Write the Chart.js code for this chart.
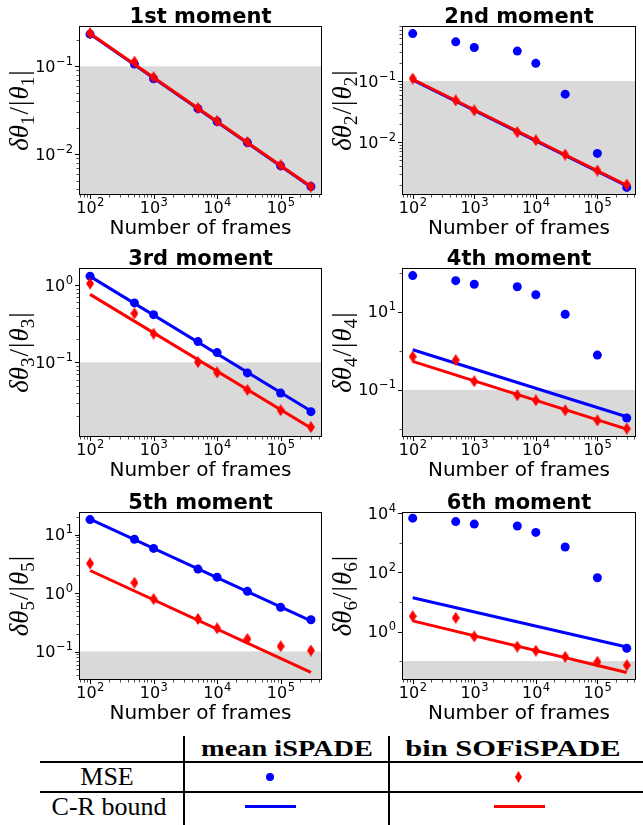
<!DOCTYPE html>
<html>
<head>
<meta charset="utf-8">
<script src="https://cdn.jsdelivr.net/npm/chart.js@4.4.1/dist/chart.umd.min.js"></script>
<style>
  html, body { margin: 0; padding: 0; background: #fff; }
  #page { position: relative; width: 643px; height: 825px; overflow: hidden; }
  #page canvas { position: absolute; }
  .rule { position: absolute; background: #000; }
  .cell { position: absolute; font-family: "Liberation Serif", serif; font-size: 26px; line-height: 1;
          color: #000; white-space: nowrap; transform: translate(-50%, -50%); }
  .head { font-weight: bold; font-size: 24px; transform: translate(-50%, -50%) scaleX(1.18); }
  .head.wide { transform: translate(-50%, -50%) scaleX(1.27); }
  .mark { position: absolute; }
</style>
</head>
<body>
<div id="page">
  <!-- key table under the panels -->
  <div class="rule" style="left:40px; top:761px; width:603px; height:1.5px"></div>
  <div class="rule" style="left:40px; top:791px; width:603px; height:1.5px"></div>
  <div class="rule" style="left:183px; top:736px; width:1.5px; height:89px"></div>
  <div class="rule" style="left:388px; top:736px; width:1.5px; height:89px"></div>
  <div class="cell head" style="left:287px; top:748px">mean iSPADE</div>
  <div class="cell head wide" style="left:513px; top:748px">bin SOFiSPADE</div>
  <div class="cell" style="left:107px; top:777px">MSE</div>
  <div class="cell" style="left:109px; top:807px">C-R bound</div>
  <div class="mark" style="left:266px; top:773px; width:8px; height:8px; border-radius:50%; background:#0000ff"></div>
  <div class="mark" style="left:515px; top:771px; width:7px; height:12px; background:#ff0000; clip-path:polygon(50% 0, 100% 50%, 50% 100%, 0 50%)"></div>
  <div class="mark" style="left:245px; top:805px; width:51px; height:3px; background:#0000ff"></div>
  <div class="mark" style="left:494px; top:805px; width:51px; height:3px; background:#ff0000"></div>
</div>
<script>
// number of frames used for each estimate
const frames = [100, 500, 1000, 5000, 10000, 30000, 100000, 300000];
// the Cramer-Rao bound lines run between these two frame counts
const boundFrames = [100, 300000];

// relative error of the mean iSPADE estimator (MSE), per moment
const meanMse1 = [0.232, 0.106, 0.072, 0.033, 0.0236, 0.0136, 0.0074, 0.0043];
const meanMse2 = [0.60, 0.44, 0.355, 0.31, 0.195, 0.061, 0.0065, 0.0018];
const meanMse3 = [1.31, 0.59, 0.415, 0.186, 0.134, 0.073, 0.040, 0.023];
const meanMse4 = [85, 63, 51, 44, 27.5, 8.7, 0.78, 0.019];
const meanMse5 = [18, 8.3, 5.8, 2.57, 1.87, 1.07, 0.57, 0.35];
const meanMse6 = [6800, 5200, 4300, 3700, 2250, 720, 66, 0.27];

// relative error of the bin SOFiSPADE estimator (MSE), per moment
const binMse1 = [0.238, 0.113, 0.075, 0.0335, 0.024, 0.0138, 0.0075, 0.0043];
const binMse2 = [0.110, 0.048, 0.033, 0.0145, 0.0107, 0.0062, 0.0034, 0.0020];
const binMse3 = [1.05, 0.43, 0.235, 0.101, 0.074, 0.044, 0.024, 0.0145];
const binMse4 = [0.71, 0.58, 0.166, 0.073, 0.054, 0.030, 0.0165, 0.0102];
const binMse5 = [3.2, 1.5, 0.79, 0.36, 0.25, 0.164, 0.123, 0.104];
const binMse6 = [3.3, 2.9, 0.68, 0.31, 0.225, 0.14, 0.095, 0.073];

// Cramer-Rao bounds at the first and last frame count
const meanBound1 = [0.232, 0.00424];
const meanBound2 = [0.104, 0.0019];
const meanBound3 = [1.30, 0.0235];
const meanBound4 = [1.07, 0.0205];
const meanBound5 = [18.3, 0.335];
const meanBound6 = [13.8, 0.30];
const binBound1 = [0.236, 0.0043];
const binBound2 = [0.107, 0.00195];
const binBound3 = [0.76, 0.0141];
const binBound4 = [0.54, 0.0099];
const binBound5 = [2.43, 0.044];
const binBound6 = [2.3, 0.041];

const momentTitles = ['1st moment', '2nd moment', '3rd moment', '4th moment', '5th moment', '6th moment'];
const xTicks = [1e2, 1e3, 1e4, 1e5];
const yTicks = [[1e-2, 1e-1], [1e-2, 1e-1], [1e-1, 1e0], [1e-1, 1e1], [1e-1, 1e0, 1e1], [1e0, 1e2, 1e4]];
const threshold = 0.1;

const meanMse = [meanMse1, meanMse2, meanMse3, meanMse4, meanMse5, meanMse6];
const binMse = [binMse1, binMse2, binMse3, binMse4, binMse5, binMse6];
const meanBound = [meanBound1, meanBound2, meanBound3, meanBound4, meanBound5, meanBound6];
const binBound = [binBound1, binBound2, binBound3, binBound4, binBound5, binBound6];

// canvas box [left, top, width, height] and plot rect [left, top, right, bottom], page pixels
const panels = [
  { canvas: [0, 0, 330, 245],     plot: [79, 26, 322, 195],   yMin: 0.00345, yMax: 0.287, xMax: 448000, stride: 1 },
  { canvas: [330, 0, 313, 245],   plot: [402, 26, 643, 195],  yMin: 0.00135, yMax: 0.80,  xMax: 424000, stride: 1 },
  { canvas: [0, 245, 330, 245],   plot: [79, 268, 322, 437],  yMin: 0.0108,  yMax: 1.67,  xMax: 448000, stride: 1 },
  { canvas: [330, 245, 313, 245], plot: [402, 268, 643, 437], yMin: 0.0062,  yMax: 133,   xMax: 424000, stride: 2 },
  { canvas: [0, 490, 330, 240],   plot: [79, 512, 322, 680],  yMin: 0.0326,  yMax: 24.3,  xMax: 448000, stride: 1 },
  { canvas: [330, 490, 313, 240], plot: [402, 512, 643, 680], yMin: 0.023,   yMax: 11000, xMax: 424000, stride: 2 }
];
const xMin = 67;

const BASE_FONT = '16px "DejaVu Sans"';
const SUP_FONT = '11.5px "DejaVu Sans"';

// "10" with a raised exponent, anchored at x ('center' or 'right') on baseline y
function drawPower(ctx, v, x, y, align) {
  const e = String(Math.round(Math.log10(v))).replace('-', '\u2212');
  ctx.font = BASE_FONT;
  const wb = ctx.measureText('10').width;
  ctx.font = SUP_FONT;
  const we = ctx.measureText(e).width;
  const x0 = align === 'center' ? x - (wb + we) / 2 : x - (wb + we);
  ctx.font = BASE_FONT;
  ctx.fillText('10', x0, y);
  ctx.font = SUP_FONT;
  ctx.fillText(e, x0 + wb + 0.5, y - 7);
}

function thinDiamond(w, h, color) {
  const c = document.createElement('canvas');
  c.width = w; c.height = h;
  const g = c.getContext('2d');
  g.fillStyle = color;
  g.beginPath();
  g.moveTo(w / 2, 0); g.lineTo(w, h / 2); g.lineTo(w / 2, h); g.lineTo(0, h / 2);
  g.closePath();
  g.fill();
  return c;
}
const diamond = thinDiamond(8, 12, '#ff0000');

// minor tick values (2..9 per decade, or the skipped decades) inside [lo, hi]
function minorTicks(lo, hi, stride) {
  const out = [];
  for (let e = Math.floor(Math.log10(lo)); e <= Math.ceil(Math.log10(hi)); e++) {
    const d = Math.pow(10, e);
    if (stride > 1) {
      if (d >= lo && d <= hi) out.push(d);
      continue;
    }
    for (let m = 2; m <= 9; m++) {
      const v = m * d;
      if (v >= lo && v <= hi) out.push(v);
    }
  }
  return out;
}

// rich y-axis label: delta theta_n / |theta_n|
function drawYLabel(ctx, n, cx, cy, size) {
  const it = `italic ${size}px "Liberation Serif"`;
  const rm = `${size}px "Liberation Serif"`;
  const sb = `${Math.round(size * 0.7)}px "Liberation Serif"`;
  const parts = [
    { t: '\u03b4\u03b8', f: it, dy: 0, gap: 0 },
    { t: String(n), f: sb, dy: size * 0.22, gap: 1 },
    { t: '/', f: rm, dy: 0, gap: 1 },
    { t: '|', f: rm, dy: 0, gap: 1 },
    { t: '\u03b8', f: it, dy: 0, gap: 0 },
    { t: String(n), f: sb, dy: size * 0.22, gap: 1 },
    { t: '|', f: rm, dy: 0, gap: 0 }
  ];
  let total = 0;
  parts.forEach(p => { ctx.font = p.f; p.w = ctx.measureText(p.t).width + p.gap; total += p.w; });
  ctx.save();
  ctx.translate(cx, cy);
  ctx.rotate(-Math.PI / 2);
  ctx.fillStyle = '#000';
  ctx.textBaseline = 'alphabetic';
  let x = -total / 2;
  parts.forEach(p => {
    ctx.font = p.f;
    ctx.fillText(p.t, x, size * 0.3 + p.dy);
    x += p.w;
  });
  ctx.restore();
}

const panelDecor = {
  id: 'panelDecor',
  beforeDatasetsDraw(chart, args, opts) {
    const { ctx, chartArea: a, scales: { y } } = chart;
    const yb = Math.max(a.top, y.getPixelForValue(threshold));
    ctx.save();
    ctx.fillStyle = '#d9d9d9';
    ctx.fillRect(a.left, yb, a.right - a.left, a.bottom - yb);
    ctx.restore();
  },
  afterDatasetsDraw(chart, args, opts) {
    const { ctx, chartArea: a, scales: { x, y } } = chart;
    ctx.save();
    ctx.strokeStyle = '#000';
    // major ticks
    ctx.lineWidth = 1;
    ctx.beginPath();
    x.ticks.forEach(t => {
      const px = Math.round(x.getPixelForValue(t.value)) + 0.5;
      ctx.moveTo(px, a.bottom); ctx.lineTo(px, a.bottom + 4);
    });
    y.ticks.forEach(t => {
      const py = Math.round(y.getPixelForValue(t.value)) + 0.5;
      ctx.moveTo(a.left, py); ctx.lineTo(a.left - 4, py);
    });
    ctx.stroke();
    // minor ticks
    ctx.lineWidth = 0.7;
    ctx.beginPath();
    minorTicks(x.min, x.max, 1).forEach(v => {
      const px = Math.round(x.getPixelForValue(v)) + 0.5;
      ctx.moveTo(px, a.bottom); ctx.lineTo(px, a.bottom + 2.5);
    });
    minorTicks(y.min, y.max, opts.stride).forEach(v => {
      if (y.ticks.some(t => Math.abs(t.value - v) / v < 1e-9)) return;
      const py = Math.round(y.getPixelForValue(v)) + 0.5;
      ctx.moveTo(a.left, py); ctx.lineTo(a.left - 2.5, py);
    });
    ctx.stroke();
    // axes box
    ctx.lineWidth = 1;
    ctx.strokeRect(a.left + 0.5, a.top + 0.5, a.right - a.left - 1, a.bottom - a.top - 1);
    ctx.restore();
  },
  afterDraw(chart, args, opts) {
    const { ctx, chartArea: a, scales: { x, y } } = chart;
    ctx.save();
    ctx.fillStyle = '#000';
    ctx.textBaseline = 'alphabetic';
    ctx.textAlign = 'left';
    // tick labels at the scale's own tick positions
    x.ticks.forEach(t => drawPower(ctx, t.value, x.getPixelForValue(t.value), a.bottom + 18, 'center'));
    y.ticks.forEach(t => drawPower(ctx, t.value, a.left - 6.5, y.getPixelForValue(t.value) + 5.6, 'right'));
    // panel title
    ctx.font = 'bold 21px "DejaVu Sans"';
    ctx.textAlign = 'center';
    ctx.fillText(opts.title, (a.left + a.right) / 2, a.top - 3.5);
    ctx.restore();
    drawYLabel(ctx, opts.moment, a.left - 59, (a.top + a.bottom) / 2, 27);
  }
};

const page = document.getElementById('page');

panels.forEach((p, i) => {
  const [cl, ct, cw, ch] = p.canvas;
  const [pl, pt, pr, pb] = p.plot;
  const cv = document.createElement('canvas');
  cv.width = cw; cv.height = ch;
  cv.style.left = cl + 'px'; cv.style.top = ct + 'px';
  cv.style.width = cw + 'px'; cv.style.height = ch + 'px';
  page.appendChild(cv);

  const xTitlePad = (ct + ch) - (pb + 33.3) - 12;

  new Chart(cv, {
    type: 'scatter',
    data: {
      datasets: [
        {
          data: boundFrames.map((f, k) => ({ x: f, y: binBound[i][k] })),
          showLine: true, borderColor: '#ff0000', borderWidth: 3, pointRadius: 0, order: 0
        },
        {
          data: frames.map((f, k) => ({ x: f, y: binMse[i][k] })),
          pointStyle: diamond, pointRadius: 6, order: 1
        },
        {
          data: boundFrames.map((f, k) => ({ x: f, y: meanBound[i][k] })),
          showLine: true, borderColor: '#0000ff', borderWidth: 3, pointRadius: 0, order: 2
        },
        {
          data: frames.map((f, k) => ({ x: f, y: meanMse[i][k] })),
          pointStyle: 'circle', pointRadius: 4.5, borderWidth: 0,
          backgroundColor: '#0000ff', order: 3
        }
      ]
    },
    options: {
      animation: false,
      responsive: false,
      devicePixelRatio: 1,
      events: [],
      layout: { padding: { left: 0, right: (cl + cw) - pr, top: pt - ct, bottom: 0 } },
      plugins: {
        legend: { display: false },
        tooltip: { enabled: false },
        title: { display: false },
        panelDecor: { title: momentTitles[i], moment: i + 1, stride: p.stride }
      },
      scales: {
        x: {
          type: 'logarithmic',
          bounds: 'data',
          min: xMin,
          max: p.xMax,
          afterBuildTicks: s => { s.ticks = xTicks.map(v => ({ value: v })); },
          afterFit: s => { s.height = (ct + ch) - pb; },
          grid: { display: false, drawTicks: false },
          border: { display: false },
          ticks: { display: false, autoSkip: false, maxRotation: 0 },
          title: { display: true, text: 'Number of frames', color: '#000',
                   font: { family: 'DejaVu Sans', size: 20 }, padding: { top: 0, bottom: xTitlePad } }
        },
        y: {
          type: 'logarithmic',
          bounds: 'data',
          min: p.yMin,
          max: p.yMax,
          afterBuildTicks: s => { s.ticks = yTicks[i].map(v => ({ value: v })); },
          afterFit: s => { s.width = pl - cl; },
          grid: { display: false, drawTicks: false },
          border: { display: false },
          ticks: { display: false, autoSkip: false }
        }
      }
    },
    plugins: [panelDecor]
  });
});
</script>
</body>
</html>
